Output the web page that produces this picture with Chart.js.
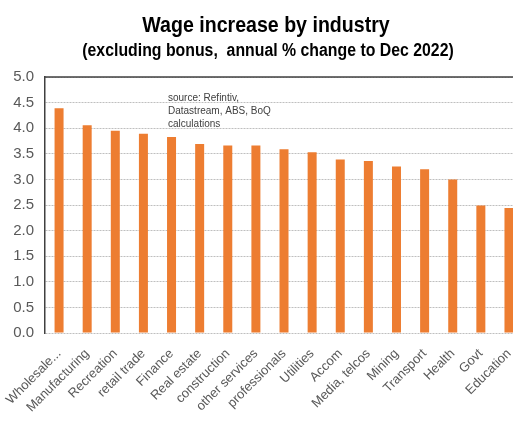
<!DOCTYPE html>
<html>
<head>
<meta charset="utf-8">
<script src="https://cdn.jsdelivr.net/npm/chart.js@4"></script>
<style>
  html, body { margin: 0; padding: 0; background: #fff; overflow: hidden; }
  #wrap { width: 525px; height: 432px; }
</style>
</head>
<body>
<div id="wrap"><canvas id="chart_wage"></canvas></div>
<script>
// industries, sorted by wage growth
const industries = ['Wholesale...', 'Manufacturing', 'Recreation', 'retail trade', 'Finance', 'Real estate',
  'construction', 'other services', 'professionals', 'Utilities', 'Accom', 'Media, telcos',
  'Mining', 'Transport', 'Health', 'Govt', 'Education'];
// annual % change to Dec 2022, excluding bonus
const wage_growth = [4.39, 4.06, 3.95, 3.89, 3.83, 3.69, 3.66, 3.66, 3.59, 3.53, 3.39, 3.36, 3.25, 3.20, 3.00, 2.49, 2.44];
const chart_title = 'Wage increase by industry';
const chart_subtitle = '(excluding bonus,  annual % change to Dec 2022)';
const source_lines = ['source: Refintiv,', 'Datastream, ABS, BoQ', 'calculations'];

const label_font = "'Liberation Sans', Arial, sans-serif";

// narrow bold text, like Arial Narrow in the original
function drawNarrow(ctx, text, cx, baseline, size, squeeze){
  ctx.save();
  ctx.font = 'bold ' + size + 'px ' + label_font;
  ctx.textAlign = 'center';
  ctx.textBaseline = 'alphabetic';
  ctx.translate(cx, baseline);
  ctx.scale(squeeze, 1);
  ctx.fillText(text, 0, 0);
  ctx.restore();
}

// titles, top frame line and the source note
const extras = {
  id: 'extras',
  afterDraw(chart){
    const ctx = chart.ctx;
    const area = chart.chartArea;
    ctx.save();
    ctx.fillStyle = '#000';
    drawNarrow(ctx, chart_title, 266, 32, 22, 0.89);
    drawNarrow(ctx, chart_subtitle, 268, 56, 18, 0.88);

    ctx.strokeStyle = '#404040';
    ctx.lineWidth = 1.5;
    ctx.beginPath();
    ctx.moveTo(area.left, area.top);
    ctx.lineTo(area.right, area.top);
    ctx.stroke();

    ctx.fillStyle = '#404040';
    ctx.font = "10px " + label_font;
    ctx.textBaseline = 'top';
    source_lines.forEach((s, i) => ctx.fillText(s, area.left + 123, area.top + 16 + i * 13));
    ctx.restore();
  }
};

const config = {
  type: 'bar',
  data: {
    labels: industries,
    datasets: [{
      data: wage_growth,
      backgroundColor: '#ED7D31',
      barPercentage: 0.32,
      categoryPercentage: 1.0
    }]
  },
  options: {
    responsive: true,
    maintainAspectRatio: false,
    animation: false,
    layout: { padding: { top: 77 } },
    plugins: {
      legend: { display: false },
      tooltip: { enabled: false }
    },
    scales: {
      x: {
        grid: { display: false },
        border: { display: false },
        ticks: {
          color: '#595959',
          font: { family: label_font, size: 13 },
          minRotation: 45,
          maxRotation: 45,
          autoSkip: false,
          padding: 5
        },
        afterFit(scale){ scale.height = 99; }
      },
      y: {
        min: 0,
        max: 5,
        ticks: {
          stepSize: 0.5,
          color: '#595959',
          font: { family: label_font, size: 15 },
          padding: 11,
          callback: (v) => v.toFixed(1)
        },
        grid: { color: '#bfbfbf', drawTicks: false },
        border: { display: true, color: '#404040', width: 1.5, dash: [2, 1] },
        afterFit(scale){ scale.width = 45; }
      }
    }
  },
  plugins: [extras]
};

new Chart(document.getElementById('chart_wage'), config);
</script>
</body>
</html>
